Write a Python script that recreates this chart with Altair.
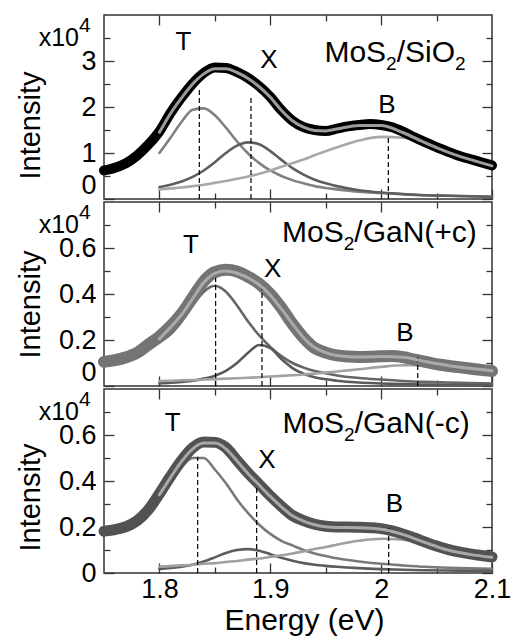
import altair as alt
import pandas as pd

FONT = "Liberation Sans"
TICK_C = "#333333"

# ---------------- data ----------------
E_DATA = [1.75, 1.76, 1.77, 1.78, 1.79, 1.80, 1.81, 1.82, 1.83, 1.84, 1.85, 1.86,
          1.87, 1.88, 1.89, 1.90, 1.91, 1.92, 1.93, 1.94, 1.95, 1.96, 1.97, 1.98,
          1.99, 2.00, 2.01, 2.02, 2.03, 2.04, 2.05, 2.06, 2.07, 2.08, 2.09, 2.10]
E_FIT = [1.80, 1.81, 1.82, 1.83, 1.84, 1.85, 1.86, 1.87, 1.88, 1.89, 1.90, 1.91,
         1.92, 1.93, 1.94, 1.95, 1.96, 1.98, 2.00, 2.02, 2.04, 2.06, 2.08, 2.10]

# Panel 1: MoS2/SiO2 (x10^4)
P1_DATA = [0.62, 0.68, 0.78, 0.95, 1.18, 1.47, 1.87, 2.21, 2.51, 2.74, 2.86, 2.85,
           2.76, 2.63, 2.45, 2.22, 1.93, 1.70, 1.56, 1.50, 1.48, 1.53, 1.58, 1.61,
           1.63, 1.61, 1.56, 1.46, 1.34, 1.23, 1.13, 1.03, 0.94, 0.87, 0.80, 0.73]
P1_FIT = [1.45, 1.86, 2.20, 2.50, 2.72, 2.83, 2.83, 2.75, 2.62, 2.44, 2.21, 1.93,
          1.70, 1.56, 1.49, 1.48, 1.52, 1.60, 1.60, 1.44, 1.22, 1.02, 0.86, 0.72]
P1_T = [1.00, 1.33, 1.68, 1.94, 1.97, 1.82, 1.55, 1.25, 0.99, 0.78, 0.62, 0.50,
        0.41, 0.34, 0.28, 0.24, 0.21, 0.16, 0.13, 0.10, 0.08, 0.07, 0.06, 0.05]
P1_X = [0.26, 0.31, 0.38, 0.48, 0.62, 0.80, 1.00, 1.16, 1.23, 1.19, 1.04, 0.85,
        0.67, 0.53, 0.42, 0.34, 0.28, 0.19, 0.14, 0.11, 0.08, 0.07, 0.06, 0.05]
P1_B = [0.21, 0.23, 0.25, 0.28, 0.31, 0.35, 0.39, 0.44, 0.49, 0.55, 0.62, 0.70,
        0.78, 0.86, 0.95, 1.04, 1.12, 1.27, 1.35, 1.33, 1.22, 1.06, 0.89, 0.71]
P1_DASH_E = [1.836, 1.8826, 2.0065]
P1_DASH_TOP = [2.42, 2.20, 1.38]
P1_LBL_E = [1.8217, 1.8988, 2.0053]
P1_LBL_Y = [3.24, 2.84, 1.86]

# Panel 2: MoS2/GaN(+c)
P2_DATA = [0.105, 0.112, 0.125, 0.145, 0.180, 0.215, 0.260, 0.315, 0.385, 0.455, 0.495, 0.505,
           0.498, 0.475, 0.445, 0.400, 0.340, 0.270, 0.210, 0.165, 0.145, 0.133, 0.128, 0.126,
           0.127, 0.129, 0.130, 0.125, 0.115, 0.105, 0.095, 0.088, 0.082, 0.076, 0.070, 0.065]
P2_FIT = [0.205, 0.255, 0.310, 0.380, 0.450, 0.490, 0.500, 0.490, 0.470, 0.440, 0.395, 0.335,
          0.270, 0.210, 0.167, 0.145, 0.133, 0.126, 0.128, 0.125, 0.106, 0.089, 0.077, 0.066]
P2_T = [0.190, 0.225, 0.280, 0.350, 0.410, 0.436, 0.410, 0.350, 0.280, 0.220, 0.170, 0.130,
        0.100, 0.080, 0.065, 0.055, 0.046, 0.035, 0.028, 0.022, 0.018, 0.015, 0.013, 0.011]
P2_X = [0.011, 0.014, 0.018, 0.023, 0.032, 0.045, 0.066, 0.100, 0.145, 0.178, 0.165, 0.117,
        0.078, 0.053, 0.038, 0.029, 0.023, 0.015, 0.011, 0.008, 0.006, 0.005, 0.004, 0.004]
P2_B = [0.022, 0.023, 0.025, 0.026, 0.028, 0.030, 0.032, 0.034, 0.036, 0.038, 0.041, 0.044,
        0.047, 0.050, 0.054, 0.058, 0.063, 0.073, 0.083, 0.090, 0.090, 0.085, 0.077, 0.068]
P2_DASH_E = [1.8507, 1.8925, 2.033]
P2_DASH_TOP = [0.47, 0.44, 0.125]
P2_LBL_E = [1.8285, 1.9022, 2.0215]
P2_LBL_Y = [0.577, 0.476, 0.196]

# Panel 3: MoS2/GaN(-c)
P3_DATA = [0.182, 0.189, 0.202, 0.228, 0.275, 0.345, 0.420, 0.490, 0.545, 0.570, 0.568, 0.545,
           0.490, 0.435, 0.385, 0.335, 0.290, 0.250, 0.228, 0.212, 0.203, 0.200, 0.200, 0.199,
           0.197, 0.193, 0.183, 0.169, 0.152, 0.134, 0.117, 0.103, 0.092, 0.083, 0.076, 0.070]
P3_FIT = [0.340, 0.415, 0.485, 0.540, 0.565, 0.565, 0.540, 0.487, 0.432, 0.382, 0.333, 0.288,
          0.249, 0.226, 0.210, 0.201, 0.198, 0.197, 0.190, 0.167, 0.132, 0.100, 0.081, 0.068]
P3_T = [0.320, 0.390, 0.460, 0.500, 0.500, 0.450, 0.390, 0.320, 0.260, 0.210, 0.170, 0.140,
        0.120, 0.100, 0.085, 0.074, 0.064, 0.050, 0.040, 0.033, 0.027, 0.023, 0.020, 0.018]
P3_X = [0.018, 0.022, 0.027, 0.036, 0.050, 0.068, 0.087, 0.100, 0.104, 0.097, 0.082, 0.066,
        0.053, 0.043, 0.036, 0.031, 0.027, 0.021, 0.017, 0.014, 0.012, 0.011, 0.010, 0.009]
P3_B = [0.028, 0.030, 0.033, 0.036, 0.040, 0.043, 0.048, 0.052, 0.058, 0.063, 0.070, 0.077,
        0.085, 0.094, 0.104, 0.113, 0.123, 0.140, 0.149, 0.145, 0.128, 0.104, 0.080, 0.058]
P3_DASH_E = [1.8345, 1.8877, 2.0068]
P3_DASH_TOP = [0.505, 0.384, 0.20]
P3_LBL_E = [1.812, 1.8969, 2.0119]
P3_LBL_Y = [0.617, 0.456, 0.267]

PEAK_NAMES = ["T", "X", "B"]
# sample names as (text, is_subscript) pieces: MoS2/SiO2, MoS2/GaN(+c), MoS2/GaN(-c)
SAMPLE_1 = [("MoS", False), ("2", True), ("/SiO", False), ("2", True)]
SAMPLE_2 = [("MoS", False), ("2", True), ("/GaN(+c)", False)]
SAMPLE_3 = [("MoS", False), ("2", True), ("/GaN(-c)", False)]
SAMPLE_E = [2.0125, 1.9985, 1.9954]
SAMPLE_Y = [2.98, 0.627, 0.608]

X_MAJ = [1.8, 1.9, 2.0, 2.1]
X_MIN = [1.85, 1.95, 2.05]
Y1_MAJ = [0, 1, 2, 3]
Y1_MIN = [0.5, 1.5, 2.5, 3.5]
Y2_MAJ = [0, 0.2, 0.4, 0.6]
Y2_MIN = [0.1, 0.3, 0.5, 0.7]

W, H = 388, 184
MAJ, MIN = 10, 6
NAME_FS, SUB_FS = 30, 19

# Arial / Liberation Sans advance widths (per em) used to set the subscript pieces side by side
ADV = {"M": 0.833, "o": 0.556, "S": 0.667, "/": 0.278, "i": 0.222, "O": 0.778, "G": 0.778,
       "a": 0.556, "N": 0.722, "(": 0.333, ")": 0.333, "+": 0.584, "c": 0.5, "-": 0.333,
       "2": 0.556}


def text_w(s, fs):
    return sum(ADV.get(ch, 0.55) for ch in s) * fs


def mk_axis(orient, values, size, **kw):
    d = dict(orient=orient, values=values, tickSize=size, offset=-size, domain=False,
             grid=False, ticks=True, tickColor=TICK_C, tickWidth=1.3, labels=False,
             title=None)
    d.update(kw)
    return alt.Axis(**d)


def panel(data, fit, t, x, b, dash_e, dash_top, lbl_e, lbl_y, pieces, name_e, name_y,
          ymax, ymaj, ymin, colors, data_w, xlabels, flush, title_y):
    xs = alt.Scale(domain=[1.75, 2.1], nice=False, zero=False)
    ys = alt.Scale(domain=[0, ymax], nice=False, zero=False)
    df = pd.DataFrame({"E": E_DATA, "I": data})

    def X(ax):
        return alt.X("E:Q", scale=xs, axis=ax)

    def Y(ax):
        return alt.Y("I:Q", scale=ys, axis=ax)

    lab = dict(labels=True, labelFont=FONT, labelFontSize=27, labelColor="black",
               format="~g", labelOverlap=False)
    if xlabels:
        bottom_major = mk_axis("bottom", X_MAJ, MAJ, labelPadding=3, labelFlush=False,
                               title="Energy (eV)", titleFont=FONT, titleFontSize=30,
                               titleFontWeight="normal", titleColor="black",
                               titleX=200, titleY=57, titleBaseline="middle",
                               titleAlign="center", **lab)
    else:
        bottom_major = mk_axis("bottom", X_MAJ, MAJ)
    left_major = mk_axis("left", ymaj, MAJ, labelPadding=8, labelFlush=flush,
                         title="Intensity", titleFont=FONT, titleFontSize=29,
                         titleFontWeight="normal", titleColor="black", titleAngle=270,
                         titleX=-84, titleY=title_y, titleBaseline="middle",
                         titleAlign="center", **lab)

    base = alt.Chart(df).mark_line(opacity=0)
    ax1 = base.encode(x=X(bottom_major), y=Y(left_major))
    ax2 = base.encode(x=X(mk_axis("bottom", X_MIN, MIN)), y=Y(mk_axis("left", ymin, MIN)))
    ax3 = base.encode(x=X(mk_axis("top", X_MAJ[:-1], MAJ)), y=Y(mk_axis("right", ymaj, MAJ)))
    ax4 = base.encode(x=X(mk_axis("top", X_MIN, MIN)), y=Y(mk_axis("right", ymin, MIN)))

    def comp(vals, color, w):
        return alt.Chart(pd.DataFrame({"E": E_FIT, "I": vals})).mark_line(
            color=color, strokeWidth=w, interpolate="monotone", strokeCap="round"
        ).encode(x=X(None), y=Y(None))

    data_line = alt.Chart(df).mark_line(
        color=colors["data"], strokeWidth=data_w, interpolate="monotone",
        strokeCap="round", strokeJoin="round"
    ).encode(x=X(None), y=Y(None))

    dashed = alt.Chart(pd.DataFrame({"E": dash_e, "top": dash_top, "z": [0, 0, 0]})).mark_rule(
        color="black", strokeWidth=1.2, strokeDash=[5, 3]
    ).encode(x=X(None), y=alt.Y("z:Q", scale=ys, axis=None), y2="top:Q")

    peak_txt = alt.Chart(pd.DataFrame({"E": lbl_e, "I": lbl_y, "t": PEAK_NAMES})).mark_text(
        font=FONT, fontSize=26, color="black", align="center", baseline="alphabetic"
    ).encode(x=X(None), y=Y(None), text="t:N")

    # sample name, laid out piece by piece so the subscripts are real smaller, lowered text
    widths = [text_w(s, SUB_FS if sub else NAME_FS) for s, sub in pieces]
    start = -sum(widths) / 2
    name_layers = []
    for (s, sub), w in zip(pieces, widths):
        name_layers.append(
            alt.Chart(pd.DataFrame({"E": [name_e], "I": [name_y], "t": [s]})).mark_text(
                font=FONT, fontSize=SUB_FS if sub else NAME_FS, color="black",
                align="left", baseline="alphabetic", dx=start, dy=8 if sub else 0
            ).encode(x=X(None), y=Y(None), text="t:N")
        )
        start += w

    x10 = alt.Chart(pd.DataFrame({"t": ["x10"]})).mark_text(
        font=FONT, fontSize=25, color="black", align="right", baseline="alphabetic"
    ).encode(x=alt.value(-25), y=alt.value(31), text="t:N")
    sup = alt.Chart(pd.DataFrame({"t": ["4"]})).mark_text(
        font=FONT, fontSize=21, color="black", align="left", baseline="alphabetic"
    ).encode(x=alt.value(-25), y=alt.value(17), text="t:N")

    return alt.layer(
        ax1, ax2, ax3, ax4,
        comp(t, colors["T"], 2.6), comp(x, colors["X"], 2.6), comp(b, colors["B"], 2.6),
        data_line, dashed, comp(fit, colors["fit"], 3),
        peak_txt, *name_layers, x10, sup,
    ).resolve_axis(x="independent", y="independent").properties(width=W, height=H)


p1 = panel(P1_DATA, P1_FIT, P1_T, P1_X, P1_B, P1_DASH_E, P1_DASH_TOP, P1_LBL_E, P1_LBL_Y,
           SAMPLE_1, SAMPLE_E[0], SAMPLE_Y[0], 4, Y1_MAJ, Y1_MIN,
           {"data": "#000000", "fit": "#9c9c9c", "T": "#808080", "X": "#5e5e5e", "B": "#a8a8a8"},
           10, False, True, 110)
p2 = panel(P2_DATA, P2_FIT, P2_T, P2_X, P2_B, P2_DASH_E, P2_DASH_TOP, P2_LBL_E, P2_LBL_Y,
           SAMPLE_2, SAMPLE_E[1], SAMPLE_Y[1], 0.8, Y2_MAJ, Y2_MIN,
           {"data": "#747474", "fit": "#ababab", "T": "#666666", "X": "#5a5a5a", "B": "#a2a2a2"},
           12, False, True, 102)
p3 = panel(P3_DATA, P3_FIT, P3_T, P3_X, P3_B, P3_DASH_E, P3_DASH_TOP, P3_LBL_E, P3_LBL_Y,
           SAMPLE_3, SAMPLE_E[2], SAMPLE_Y[2], 0.8, Y2_MAJ, Y2_MIN,
           {"data": "#525252", "fit": "#a8a8a8", "T": "#7a7a7a", "X": "#5c5c5c", "B": "#a0a0a0"},
           11, True, False, 108)

chart = alt.vconcat(p1, p2, p3, spacing=3, bounds="flush").properties(
    padding={"left": 15, "top": 13, "right": 0, "bottom": 0}
).configure_view(stroke=TICK_C, strokeWidth=1.5)

chart.save("out.html", embed_options={"renderer": "svg", "actions": False})
